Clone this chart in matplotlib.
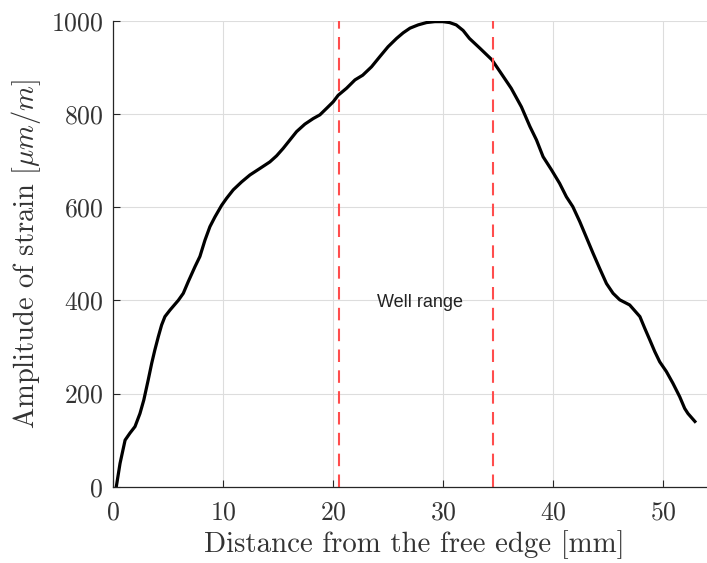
import matplotlib
matplotlib.use("Agg")
import matplotlib.pyplot as plt

plt.rcParams['font.family'] = ['cmr10', 'DejaVu Serif']
plt.rcParams['mathtext.fontset'] = 'cm'
plt.rcParams['axes.formatter.use_mathtext'] = True

distance = [0.3, 0.64, 1.1, 1.54, 2.0, 2.45, 2.8, 3.2, 3.52, 3.8, 4.12, 4.42, 4.72,
            5.18, 5.94, 6.39, 6.84, 7.45, 7.9, 8.36, 8.81, 9.27, 9.88, 10.33, 10.93,
            11.69, 12.45, 13.36, 14.26, 14.87, 15.47, 16.08, 16.69, 17.44, 18.2,
            18.81, 19.42, 20.02, 20.47, 21.23, 22.0, 22.7, 23.5, 24.26, 25.0, 25.78,
            26.38, 27.0, 27.74, 28.5, 29.26, 30.0, 30.6, 31.2, 31.83, 32.4, 33.35,
            34.45, 35.2, 36.2, 37.13, 37.9, 38.5, 39.1, 39.86, 40.6, 41.22, 41.8,
            42.43, 43.0, 43.64, 44.25, 44.86, 45.46, 46.07, 46.97, 47.9, 48.34,
            48.8, 49.25, 49.7, 50.31, 50.9, 51.52, 51.97, 52.27, 52.9]
strain = [0, 50, 100, 115, 129, 157, 186, 229, 265, 293, 322, 347, 365,
          379, 400, 415, 440, 472, 494, 529, 558, 579, 604, 619, 637,
          654, 669, 683, 697, 710, 726, 744, 762, 778, 790,
          798, 812, 826, 840, 855, 873, 883, 901, 923, 944, 962,
          974, 984, 991, 996, 998, 998, 996, 991, 979, 962, 941,
          916, 890, 855, 815, 773, 744, 708, 680, 651, 622, 601,
          569, 537, 501, 468, 436, 415, 401, 390, 365, 340,
          315, 290, 268, 247, 222, 193, 168, 157, 140]
well_bounds = [20.5, 34.5]
well_label = "Well range"
x_ticks = [0, 10, 20, 30, 40, 50]
y_ticks = [0, 200, 400, 600, 800, 1000]

fig = plt.figure(figsize=(7.07, 5.63), dpi=100)
ax = fig.add_axes([113/707, (563-486.7)/563, (707-113)/707, (486.7-20.7)/563])

ax.grid(True, color='#dddddd', linewidth=0.8)
ax.set_axisbelow(True)
ax.plot(distance, strain, color='black', linewidth=2.3, solid_joinstyle='round')
for xb in well_bounds:
    ax.plot([xb, xb], [0, 1000], color='#ff4d4d', linewidth=1.5,
            linestyle=(0, (6, 4)))
ax.text(27.9, 396, well_label, ha='center', va='center', fontsize=13,
        family=['Liberation Sans', 'DejaVu Sans'], color='#222222')

ax.set_xlim(0, 54)
ax.set_ylim(0, 1000)
ax.set_xticks(x_ticks)
ax.set_yticks(y_ticks)
ax.spines['top'].set_visible(False)
ax.spines['right'].set_visible(False)
for s in ['left', 'bottom']:
    ax.spines[s].set_color('#262626')
    ax.spines[s].set_linewidth(0.9)
ax.tick_params(direction='in', length=5, width=0.8, colors='#262626',
               labelsize=18.5, labelcolor='#333333')
ax.tick_params(axis='x', pad=10)
ax.tick_params(axis='y', pad=7)
ax.set_xlabel('Distance from the free edge [mm]', fontsize=20.8, color='#333333',
              labelpad=4)
ax.xaxis.label.set_x(0.508)
ax.set_ylabel(r'Amplitude of strain [$\mu m/m$]', fontsize=20.5, color='#333333',
              labelpad=6)

fig.savefig('out.png', dpi=100)
